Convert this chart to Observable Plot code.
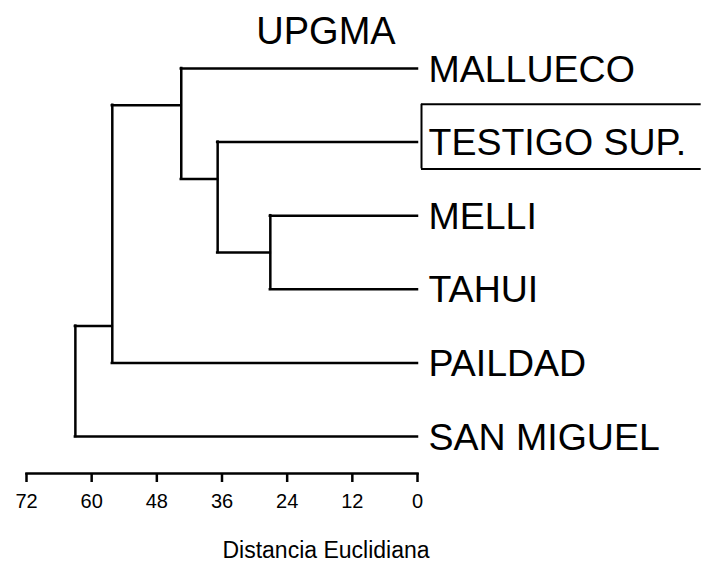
<!DOCTYPE html>
<html>
<head>
<meta charset="utf-8">
<script src="https://cdn.jsdelivr.net/npm/d3@7"></script>
<script src="https://cdn.jsdelivr.net/npm/@observablehq/plot@0.6"></script>
<style>
  html, body { margin: 0; padding: 0; background: #fff; overflow: hidden; }
  #chart { width: 702px; height: 564px; overflow: hidden; }
</style>
</head>
<body>
<div id="chart"></div>
<script>
// Leaves, top to bottom
const leaves = ["MALLUECO", "TESTIGO SUP.", "MELLI", "TAHUI", "PAILDAD", "SAN MIGUEL"];
// hclust-style merge table: negative = leaf (1-based), positive = earlier merge (1-based)
const mergeA = [-3, -2, -1, 3, 4];
const mergeB = [-4, 1, 2, -5, -6];
// Euclidean distance at which each merge happens
const mergeHeight = [27.1, 36.8, 43.5, 56.2, 63.0];
// Row (in leaf units) where each merge's stem is drawn
const mergeRow = [2.5, 1.5, 0.5, 3.5, 4.5];
const highlighted = ["TESTIGO SUP."];
const xTicks = [72, 60, 48, 36, 24, 12, 0];
const title = "UPGMA";
const xLabel = "Distancia Euclidiana";

function child(c) {
  if (c < 0) return {x: 0, y: -c - 1};
  return {x: mergeHeight[c - 1], y: mergeRow[c - 1]};
}
const horiz = [];
const vert = [];
mergeHeight.forEach((h, i) => {
  const a = child(mergeA[i]), b = child(mergeB[i]);
  horiz.push({y: a.y, x1: a.x, x2: h});
  horiz.push({y: b.y, x1: b.x, x2: h});
  vert.push({x: h, y1: a.y, y2: b.y});
});
const leafData = leaves.map((name, i) => ({name, i}));
// open box (no right side) around highlighted leaves
const boxTop = highlighted.map(d => ({y: leaves.indexOf(d) - 0.5}));
const boxBottom = highlighted.map(d => ({y: leaves.indexOf(d) + 0.5}));
const boxSides = highlighted.map(d => ({y1: leaves.indexOf(d) - 0.5, y2: leaves.indexOf(d) + 0.5}));

const font = "'Liberation Sans', Arial, sans-serif";
const chart = Plot.plot({
  width: 702,
  height: 564,
  marginLeft: 26,
  marginRight: 285,
  marginTop: 31,
  marginBottom: 91,
  style: {fontFamily: font, background: "#fff", color: "#000"},
  x: {domain: [72, 0], axis: null},
  y: {domain: [0, 5], range: [68, 436], axis: null},
  marks: [
    Plot.frame({anchor: "bottom", stroke: "#000", strokeWidth: 2.5}),
    Plot.axisX({ticks: xTicks, tickSize: 9, tickPadding: 11, fontSize: 20, label: null, tickFormat: d => String(d), strokeWidth: 2.5}),
    Plot.ruleY(horiz, {y: "y", x1: "x1", x2: "x2", stroke: "#000", strokeWidth: 2.5, strokeLinecap: "square"}),
    Plot.ruleX(vert, {x: "x", y1: "y1", y2: "y2", stroke: "#000", strokeWidth: 2.5, strokeLinecap: "square"}),
    Plot.ruleY(boxTop, {y: "y", x1: 0, x2: -51.5, dx: 4, dy: -1, stroke: "#000", strokeWidth: 2}),
    Plot.ruleY(boxBottom, {y: "y", x1: 0, x2: -51.5, dx: 4, dy: -10, stroke: "#000", strokeWidth: 2}),
    Plot.ruleX(boxSides, {x: 0, y1: "y1", y2: "y2", dx: 4, insetTop: -1, insetBottom: 10, stroke: "#000", strokeWidth: 2}),
    Plot.text(leafData, {x: 0, y: "i", text: "name", dx: 11, dy: 1, textAnchor: "start", lineAnchor: "middle", fontSize: 37.5, fill: "#000"}),
    Plot.text([title], {frameAnchor: "top", dx: 104, dy: 0, textAnchor: "middle", lineAnchor: "middle", fontSize: 38, fill: "#000"}),
    Plot.text([xLabel], {frameAnchor: "bottom", dx: 104, dy: 77, textAnchor: "middle", lineAnchor: "middle", fontSize: 23, fill: "#000", letterSpacing: "1.4px"})
  ]
});
document.getElementById("chart").appendChild(chart);
</script>
</body>
</html>
